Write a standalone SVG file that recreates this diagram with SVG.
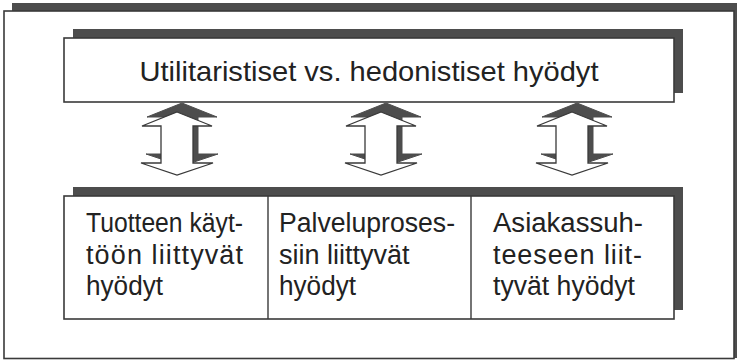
<svg xmlns="http://www.w3.org/2000/svg" width="737" height="360" viewBox="0 0 737 360">
<style>
.shadow{fill:#4d4d4d}
.box{fill:#fff;stroke:#3a3a3a;stroke-width:1.6}
.div{stroke:#3a3a3a;stroke-width:1.4}
.t{font-family:"Liberation Sans",Arial,Helvetica,sans-serif;fill:#222}
.title{font-size:28.5px}
.cell{font-size:27px}
.arrS{fill:#4d4d4d;stroke:#4d4d4d;stroke-width:1}
.arrW{fill:#fff;stroke:#3a3a3a;stroke-width:1.3;stroke-linejoin:miter}
</style>
<defs>
<polygon id="arr" points="0,112 35,126 16,126 16,163 36,163 0,175 -36,163 -16,163 -16,126 -35,126"/>
</defs>
<rect x="0" y="0" width="737" height="360" fill="#fff"/>
<g id="frame">
<rect class="shadow" x="12" y="3" width="725" height="355"/>
<rect class="box" x="4" y="11" width="730" height="347.5"/>
</g>
<g id="top">
<rect class="shadow" x="73" y="29" width="610" height="64"/>
<rect class="box" x="64" y="38" width="610" height="64"/>
<text class="t title" x="369" y="81" text-anchor="middle" textLength="459" lengthAdjust="spacingAndGlyphs">Utilitaristiset vs. hedonistiset hyödyt</text>
</g>
<g id="connectors">
<use href="#arr" class="arrS" transform="translate(182,-9)"/>
<use href="#arr" class="arrW" transform="translate(177,0)"/>
<use href="#arr" class="arrS" transform="translate(386,-9)"/>
<use href="#arr" class="arrW" transform="translate(381,0)"/>
<use href="#arr" class="arrS" transform="translate(577,-9)"/>
<use href="#arr" class="arrW" transform="translate(572,0)"/>
</g>
<g id="bottom">
<rect class="shadow" x="73" y="187" width="610" height="123"/>
<rect class="box" x="64" y="196" width="610" height="123"/>
<line class="div" x1="268" y1="196" x2="268" y2="319"/>
<line class="div" x1="471" y1="196" x2="471" y2="319"/>
</g>
<g id="cell1">
<text class="t cell" x="86" y="232" textLength="157" lengthAdjust="spacingAndGlyphs">Tuotteen käyt-</text>
<text class="t cell" x="86" y="263.5" textLength="157" lengthAdjust="spacing">töön liittyvät</text>
<text class="t cell" x="86" y="295" textLength="77" lengthAdjust="spacingAndGlyphs">hyödyt</text>
</g>
<g id="cell2">
<text class="t cell" x="279" y="232" textLength="176" lengthAdjust="spacingAndGlyphs">Palveluproses-</text>
<text class="t cell" x="279" y="263.5">siin liittyvät</text>
<text class="t cell" x="279" y="295" textLength="77" lengthAdjust="spacingAndGlyphs">hyödyt</text>
</g>
<g id="cell3">
<text class="t cell" x="493" y="232" textLength="150" lengthAdjust="spacingAndGlyphs">Asiakassuh-</text>
<text class="t cell" x="493" y="263.5" textLength="149" lengthAdjust="spacing">teeseen liit-</text>
<text class="t cell" x="493" y="295" textLength="142" lengthAdjust="spacingAndGlyphs">tyvät hyödyt</text>
</g>
</svg>
